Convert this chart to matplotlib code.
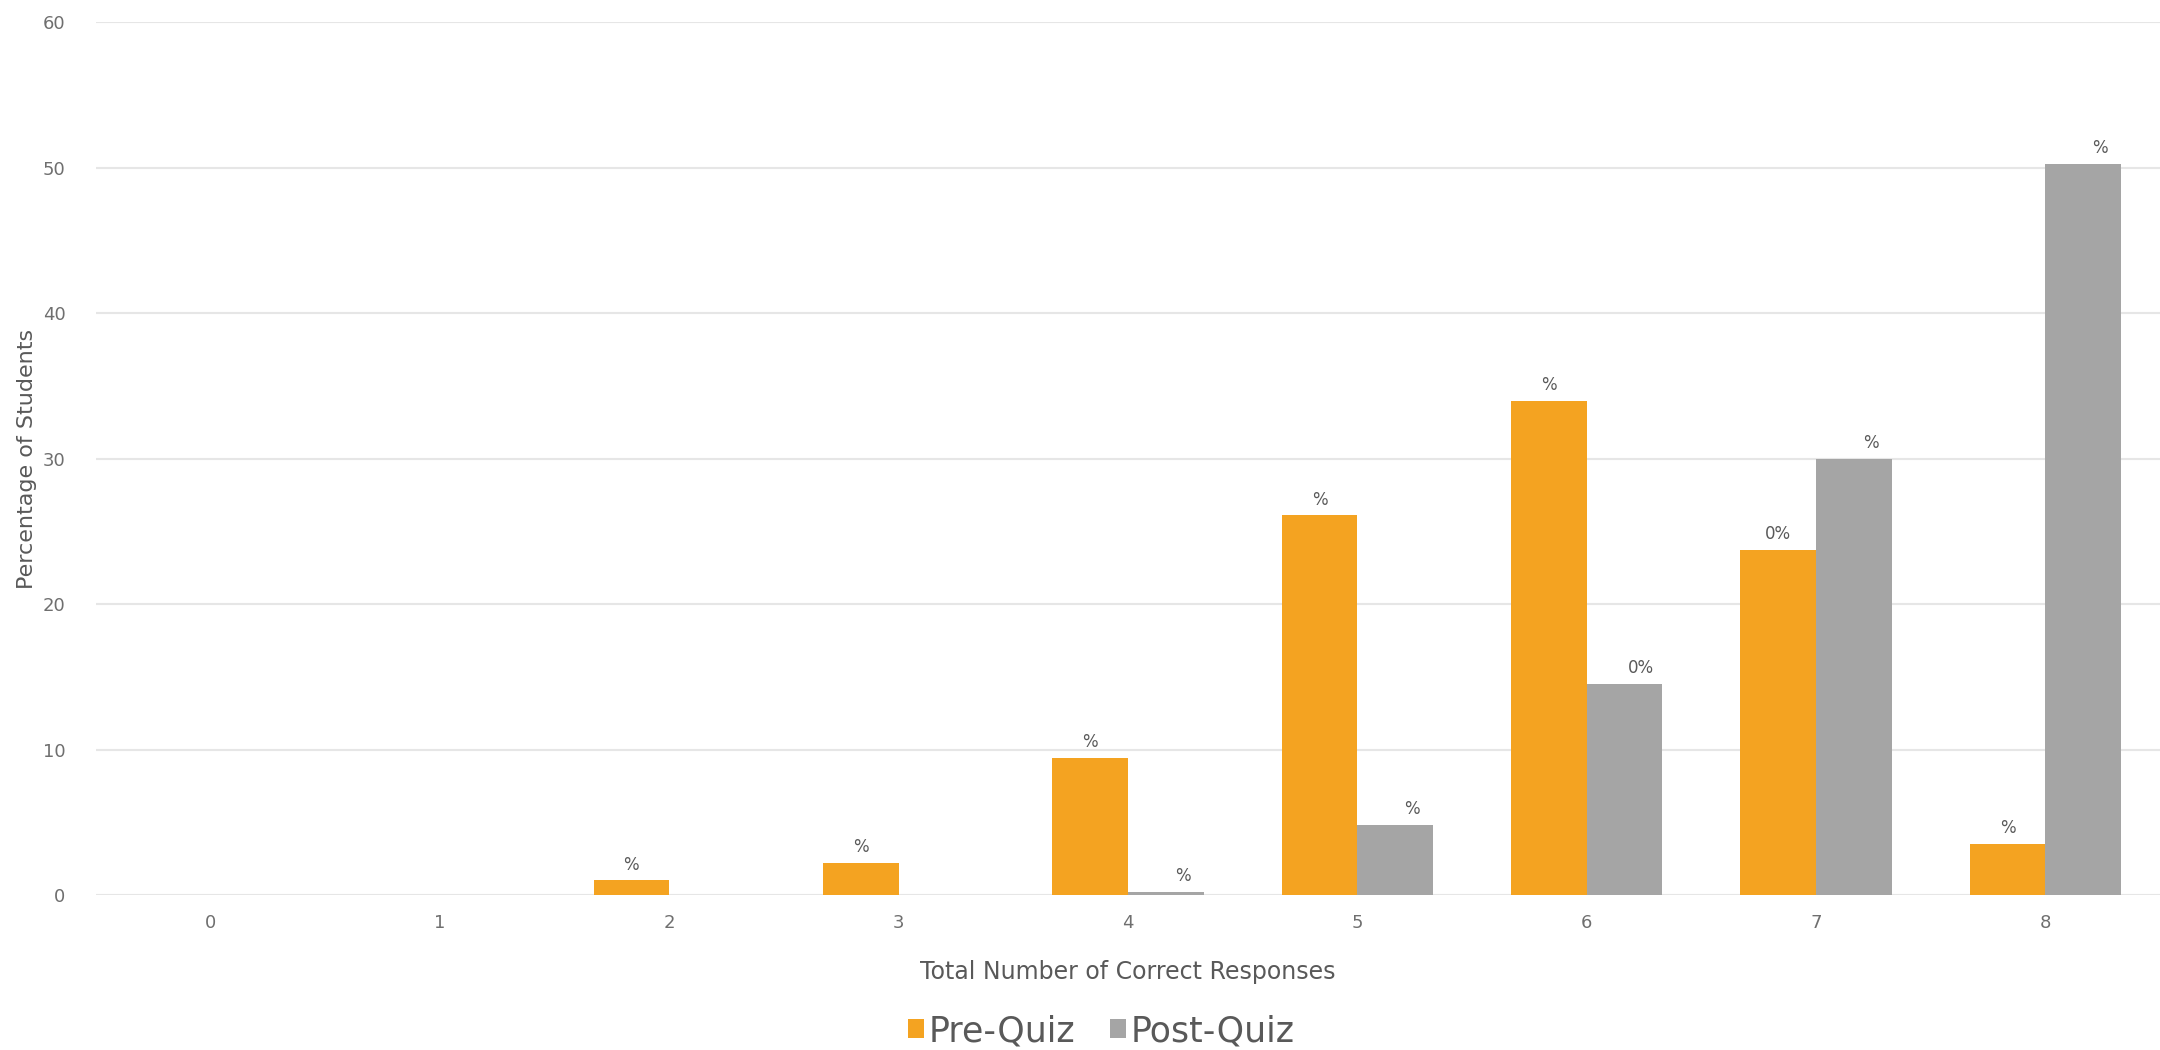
import matplotlib.pyplot as plt
import numpy as np

categories = [0, 1, 2, 3, 4, 5, 6, 7, 8]
pre_quiz = [0, 0, 1.0, 2.2, 9.4, 26.1, 34.0, 23.7, 3.5]
post_quiz = [0, 0, 0, 0, 0.2, 4.8, 14.5, 30.0, 50.3]
pre_labels = ['', '', '%', '%', '%', '%', '%', '0%', '%']
post_labels = ['', '', '', '', '%', '%', '0%', '%', '%']

orange = '#F4A321'
gray = '#A5A5A5'
text_col = '#595959'

fig = plt.figure(figsize=(21.6, 10.5), dpi=100)
ax = fig.add_axes([0.0444, 0.1476, 0.9556, 0.831])

x = np.arange(len(categories))
w = 0.33
b1 = ax.bar(x - w / 2, pre_quiz, w, color=orange, label='Pre-Quiz')
b2 = ax.bar(x + w / 2, post_quiz, w, color=gray, label='Post-Quiz')

# data labels (the originals are clipped, only the tail is visible)
for bars, labels, dx in ((b1, pre_labels, 0), (b2, post_labels, 12)):
    for bar, lab in zip(bars, labels):
        if not lab:
            continue
        ax.annotate(lab, (bar.get_x() + bar.get_width() / 2, bar.get_height()),
                    xytext=(dx, 5), textcoords='offset points',
                    ha='center', va='bottom', fontsize=12, color=text_col)

ax.set_xlim(-0.5, 8.5)
ax.set_ylim(0, 60)
ax.set_yticks(range(0, 61, 10))
ax.set_xticks(x)
ax.set_xticklabels([str(c) for c in categories])
ax.tick_params(axis='both', length=0, labelsize=13, colors='#6f6f6f')
ax.tick_params(axis='y', pad=22)
ax.tick_params(axis='x', pad=14)
ax.yaxis.grid(True, color='#E6E6E6', linewidth=1.5)
ax.set_axisbelow(True)
for s in ax.spines.values():
    s.set_visible(False)

ax.set_xlabel('Total Number of Correct Responses', fontsize=17, color=text_col, labelpad=20)
ax.set_ylabel('Percentage of Students', fontsize=16, color=text_col, labelpad=4)

fig.legend(handles=[b1, b2], loc='center', bbox_to_anchor=(0.51, 0.018), ncol=2, frameon=False,
           fontsize=25, handlelength=0.45, handleheight=0.45, handletextpad=0.15,
           columnspacing=1.0, labelcolor=text_col, borderaxespad=0, borderpad=0)

plt.savefig('out.png', dpi=100)
